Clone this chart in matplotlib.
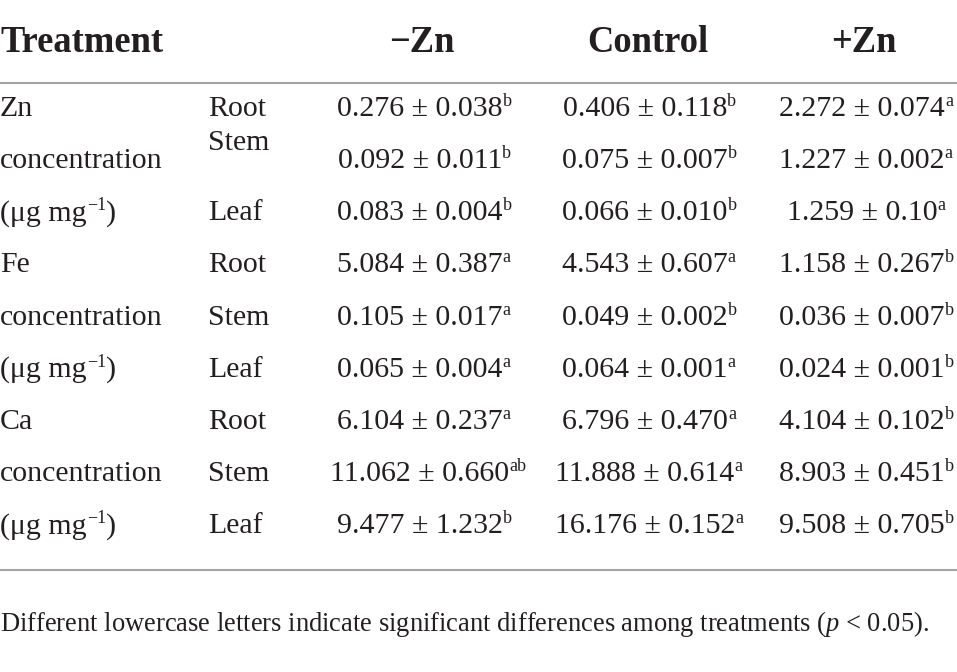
import matplotlib
matplotlib.use('Agg')
import matplotlib.pyplot as plt

plt.rcParams['font.family'] = ['Liberation Serif', 'DejaVu Serif']
plt.rcParams['mathtext.fontset'] = 'custom'
plt.rcParams['mathtext.rm'] = 'Liberation Serif'
plt.rcParams['mathtext.it'] = 'Liberation Serif:italic'

# table content
treatments = ['\u2212Zn', 'Control', '+Zn']
elements = ['Zn', 'Fe', 'Ca']
organs = ['Root', 'Stem', 'Leaf']

minus_zn_mean = ['0.276', '0.092', '0.083', '5.084', '0.105', '0.065', '6.104', '11.062', '9.477']
minus_zn_sd = ['0.038', '0.011', '0.004', '0.387', '0.017', '0.004', '0.237', '0.660', '1.232']
minus_zn_sig = ['b', 'b', 'b', 'a', 'a', 'a', 'a', 'ab', 'b']

control_mean = ['0.406', '0.075', '0.066', '4.543', '0.049', '0.064', '6.796', '11.888', '16.176']
control_sd = ['0.118', '0.007', '0.010', '0.607', '0.002', '0.001', '0.470', '0.614', '0.152']
control_sig = ['b', 'b', 'b', 'a', 'b', 'a', 'a', 'a', 'a']

plus_zn_mean = ['2.272', '1.227', '1.259', '1.158', '0.036', '0.024', '4.104', '8.903', '9.508']
plus_zn_sd = ['0.074', '0.002', '0.10', '0.267', '0.007', '0.001', '0.102', '0.451', '0.705']
plus_zn_sig = ['a', 'a', 'a', 'b', 'b', 'b', 'b', 'b', 'b']

footnote = 'Different lowercase letters indicate significant differences among treatments ($\\mathit{p}$ < 0.05).'

ink = '#231f20'
rule = '#a3a3a3'

fig = plt.figure(figsize=(9.57, 6.72), dpi=100)
ax = fig.add_axes([0, 0, 1, 1])
ax.set_xlim(0, 957)
ax.set_ylim(672, 0)
ax.axis('off')

body = 21.5
sup = 13
head = 26.3


def with_sup(x, y, main, s, ha='left'):
    # main text plus a small raised suffix right after it
    t = ax.text(x, y, main, fontsize=body, color=ink, va='baseline', ha=ha)
    a = ax.annotate(s, xy=(1, y - 10), xycoords=(t, 'data'), xytext=(0, 0),
                    textcoords='offset points', fontsize=sup, color=ink,
                    va='baseline', ha='left')
    return t, a


# header row
ax.text(0, 52, 'Treatment', fontsize=head, fontweight='bold', color=ink, va='baseline')
col_head_x = [422, 648, 864]
for x, t in zip(col_head_x, treatments):
    ax.text(x, 52, t, fontsize=head, fontweight='bold', color=ink, va='baseline', ha='center')

ax.plot([0, 957], [82.5, 82.5], color=rule, lw=1.5, solid_capstyle='butt')
ax.plot([0, 957], [570, 570], color=rule, lw=1.5, solid_capstyle='butt')

row_base = [116 + 52.15 * i for i in range(9)]

for i, el in enumerate(elements):
    y0, y1, y2 = row_base[3 * i:3 * i + 3]
    ax.text(0, y0, el, fontsize=body, color=ink, va='baseline')
    ax.text(0, y1, 'concentration', fontsize=body, color=ink, va='baseline')
    t, a = with_sup(0, y2, '(\u03bcg mg', '\u22121')
    ax.annotate(')', xy=(1, y2), xycoords=(a, 'data'), xytext=(0, 0),
                textcoords='offset points', fontsize=body, color=ink, va='baseline')
    for j, org in enumerate(organs):
        y = row_base[3 * i + j]
        if i == 0 and j == 1:
            y = 150  # "Stem" sits higher in the first block
        ax.text(208, y, org, fontsize=body, color=ink, va='baseline')

val_x = [420, 645, 862]
cols = [(minus_zn_mean, minus_zn_sd, minus_zn_sig),
        (control_mean, control_sd, control_sig),
        (plus_zn_mean, plus_zn_sd, plus_zn_sig)]
for x, (m, s, g) in zip(val_x, cols):
    for k in range(9):
        with_sup(x, row_base[k], '%s \u00b1 %s' % (m[k], s[k]), g[k], ha='center')

ax.text(0, 631, footnote, fontsize=19.1, color=ink, va='baseline')

fig.savefig('out.png', dpi=100)
